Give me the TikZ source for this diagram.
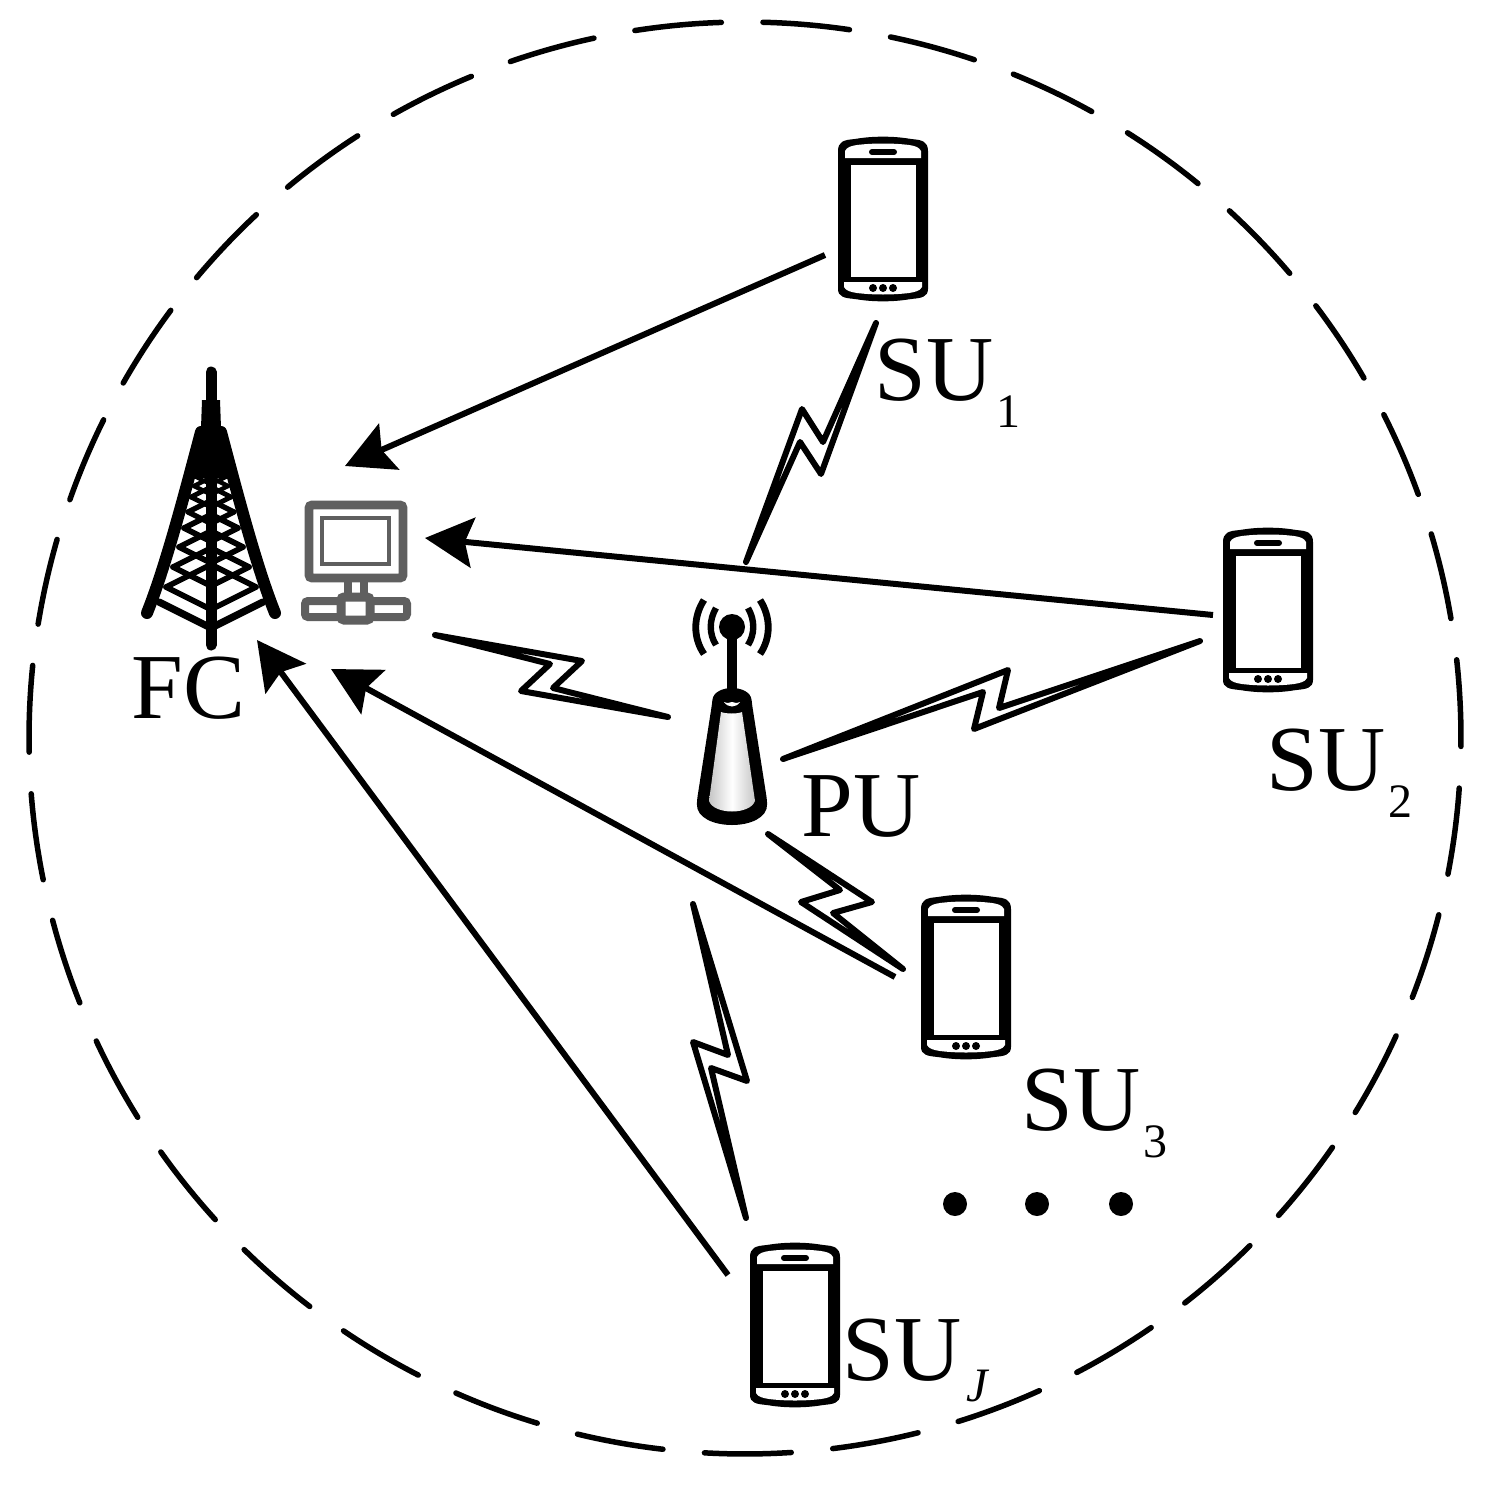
\documentclass[tikz,border=0pt]{standalone}
\usepackage{fontspec}
\setmainfont{Liberation Serif}
\usetikzlibrary{arrows.meta}
\definecolor{pcgrey}{HTML}{5F5F5F}
\newcommand{\sulabel}[1]{SU\kern1.5pt\raisebox{-13.5pt}{\fontsize{24}{24}\selectfont #1}}
\tikzset{
  x=0.5pt,y=-0.5pt,
  ring/.style={line width=2.75pt,line cap=round},
  link/.style={line width=3pt,-{Stealth[length=24pt,width=25pt,inset=4pt]}},
  bolt/.style={line width=3pt,line join=round,line cap=round},
  lbl/.style={anchor=base west,inner sep=0pt,font=\fontsize{46.5}{46.5}\selectfont},
  dot/.style={circle,fill=black,inner sep=0pt,minimum size=12pt},
  pc/.style={draw=pcgrey,fill=white,rounded corners=1.5pt},
  phone/.pic={
    \fill[black,rounded corners=1pt] (-45,-66) .. controls (-45,-78) and (-38,-79) .. (-28,-80)
      .. controls (-10,-83) and (10,-83) .. (28,-80)
      .. controls (38,-79) and (45,-78) .. (45,-66) -- (45,68)
      .. controls (45,78) and (38,79) .. (28,80)
      .. controls (10,83) and (-10,83) .. (-28,80)
      .. controls (-38,79) and (-45,78) .. (-45,68) -- cycle;
    \fill[white] (-38,-61) -- (-38,-68) .. controls (-36,-72) and (-32,-73) .. (-26,-74)
      .. controls (-10,-76) and (10,-76) .. (26,-74)
      .. controls (32,-73) and (36,-72) .. (38,-68) -- (38,-61) -- cycle;
    \fill[white] (-39,63) -- (39,63) -- (39,68) .. controls (37,72) and (32,73) .. (26,74)
      .. controls (10,76) and (-10,76) .. (-26,74)
      .. controls (-32,73) and (-37,72) .. (-39,68) -- cycle;
    \fill[white] (-32,-54) rectangle (33,58);
    \draw[line width=3pt,line cap=round] (-11,-67) -- (11,-67);
    \fill (-10,69) circle[radius=4] (0,69) circle[radius=4] (10,69) circle[radius=4];
  }
}
\begin{document}
\begin{tikzpicture}
\useasboundingbox (0,0) rectangle (1495,1488);
\fill[white] (0,0) rectangle (1495,1488);

% dashed boundary
\coordinate (centre) at (745,738);
\foreach \k in {0,...,34}{
  \pgfmathsetmacro{\t}{1.44+\k*360/35-90}
  \draw[ring] (centre) ++(\t:716) arc[start angle=\t,end angle=\t+6.95,radius=716];
}

% phones
\coordinate (ph1) at (883,219);
\coordinate (ph2) at (1268,610);
\coordinate (ph3) at (966,977);
\coordinate (phj) at (795,1325);
\pic at (ph1) {phone};
\pic at (ph2) {phone};
\pic at (ph3) {phone};
\pic at (phj) {phone};

% tower
\coordinate (fc) at (211,510);
\begin{scope}[line cap=round,line join=round]
  \fill (202,400) -- (220,400) -- (221,428) -- (225,430) -- (234,478) -- (188,478) -- (197,430) -- (201,428) -- cycle;
  \draw[line width=5.5pt] (211,372) -- (211,645);
  \draw[line width=6pt] (147,613) .. controls (165,568) and (183,500) .. (201,432);
  \draw[line width=6pt] (275,613) .. controls (257,568) and (239,500) .. (221,432);
  \draw[line width=3.6pt] (159,602) -- (211,628) -- (263,602);
  \foreach \xl/\yl/\w in {166/587/2.8,173/567/2.8,179/547/2.8,184/528/2.8,188/512/2.6,191/497/2.4,194/486/2.2,196/477/2}{
    \pgfmathsetmacro{\xr}{422-\xl}
    \pgfmathsetmacro{\d}{0.5*(211-\xl)}
    \draw[line width=\w pt] (\xl,\yl) -- (211,\yl+\d) -- (\xr,\yl);
    \draw[line width=\w pt] (\xl,\yl) -- (211,\yl-\d) -- (\xr,\yl);
  }
\end{scope}

% computer
\coordinate (comp) at (356,560);
\draw[pc,line width=4.4pt] (309,505) rectangle (403,578);
\draw[pcgrey,line width=2.3pt] (322,518) rectangle (389,564);
\draw[pcgrey,line width=3.6pt] (348,582) -- (348,597) (364,582) -- (364,597);
\draw[pc,line width=4pt] (305,601) rectangle (407,617);
\draw[pc,line width=4.5pt] (341,597) rectangle (370,620);

% primary user
\coordinate (pu) at (732,757);
\draw[line width=5pt] (732,630) -- (732,695);
\fill (732,627) circle[radius=13];
\draw[line width=3.2pt] (716,608) .. controls (709,620) and (709,634) .. (716,645);
\draw[line width=3.2pt] (748,608) .. controls (755,620) and (755,634) .. (748,645);
\draw[line width=3.4pt] (704,600) .. controls (693,617) and (693,638) .. (704,654);
\draw[line width=3.4pt] (760,600) .. controls (771,617) and (771,638) .. (760,654);
\fill[rounded corners=2pt] (712,704) .. controls (714,684) and (750,684) .. (752,704)
   -- (767,800) .. controls (768,832) and (696,832) .. (697,800) -- cycle;
\shade[left color=gray!45,right color=gray!45,middle color=white]
  (721,712) .. controls (726,714) and (738,714) .. (742,712) -- (755,801)
   .. controls (750,815) and (714,815) .. (709,801) -- cycle;
\fill[white] (724,702) .. controls (728,708) and (736,708) .. (740,702)
   .. controls (736,704) and (734,702) .. (732,702) .. controls (730,702) and (728,704) .. (724,702) -- cycle;

% bolts: tips named, zigzags between them
\coordinate (b1a) at (876,323); \coordinate (b1b) at (746,562);
\draw[bolt] (b1a) -- (823,442) -- (802,409) -- (b1b) -- (800,442) -- (821,474) -- cycle;
\coordinate (b2a) at (435,635); \coordinate (b2b) at (668,717);
\draw[bolt] (b2a) -- (582,661) -- (553,688) -- (b2b) -- (521,691) -- (550,664) -- cycle;
\coordinate (b3a) at (783,759); \coordinate (b3b) at (1200,641);
\draw[bolt] (b3a) -- (1008,670) -- (999,708) -- (b3b) -- (974,729) -- (983,692) -- cycle;
\coordinate (b4a) at (768,834); \coordinate (b4b) at (903,969);
\draw[bolt] (b4a) -- (872,902) -- (833,913) -- (b4b) -- (801,902) -- (840,890) -- cycle;
\coordinate (b5a) at (693,904); \coordinate (b5b) at (746,1218);
\draw[bolt] (b5a) -- (728,1055) -- (693,1042) -- (b5b) -- (711,1068) -- (747,1081) -- cycle;

% arrows to the fusion centre
\coordinate (a1s) at (825,255); \coordinate (a1e) at (345,466);
\coordinate (a2s) at (1213,615); \coordinate (a2e) at (425,538);
\coordinate (a3s) at (895,977); \coordinate (a3e) at (331,669);
\coordinate (a4s) at (728,1275); \coordinate (a4e) at (257,640);
\draw[link] (a1s) -- (a1e);
\draw[link] (a2s) -- (a2e);
\draw[link] (a3s) -- (a3e);
\draw[link] (a4s) -- (a4e);

% labels
\node[lbl] (lfc) at (131,718) {FC};
\node[lbl] (lpu) at (801,836) {PU};
\node[lbl] (lsu1) at (874,400) {\sulabel{1}};
\node[lbl] (lsu2) at (1266,790) {\sulabel{2}};
\node[lbl] (lsu3) at (1021,1130) {\sulabel{3}};
\node[lbl] (lsuj) at (842,1380) {SU\kern2.5pt\raisebox{-10.5pt}{\fontsize{24}{24}\selectfont\itshape J}};

% ellipsis
\node[dot] (d1) at (955,1204) {};
\node[dot] (d2) at (1037,1204) {};
\node[dot] (d3) at (1121,1204) {};
\end{tikzpicture}
\end{document}
